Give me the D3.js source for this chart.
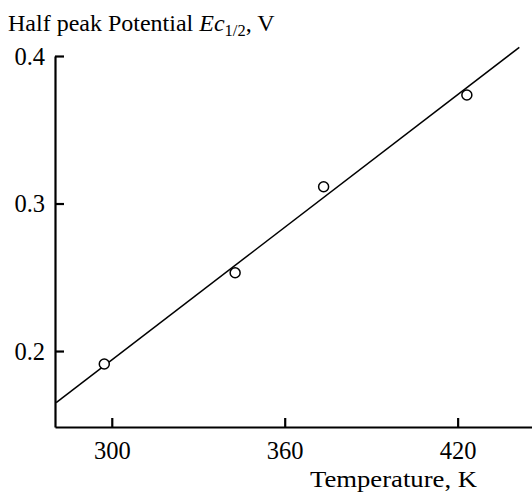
<!DOCTYPE html>
<html>
<head>
<meta charset="utf-8">
<script src="https://cdn.jsdelivr.net/npm/d3@7"></script>
<style>
  html, body { margin: 0; padding: 0; background: #fff; }
  svg { display: block; }
  text { font-family: "Liberation Serif", "Times New Roman", serif; fill: #000; }
</style>
</head>
<body>
<svg id="chart" width="532" height="492"></svg>
<script>
// Data
const temperatures = [297.4, 342.8, 373.5, 423.2];      // K
const potentials   = [0.1912, 0.2531, 0.3114, 0.3736];  // V
const fitTemps     = [280.7, 441.4];                     // fitted line ends, K
const fitPotentials = [0.1650, 0.4059];                  // V
const xTicks = [300, 360, 420];
const yTicks = [0.2, 0.3, 0.4];
const xDomain = [280.3, 445.8];
const yDomain = [0.1485, 0.4];

const svg = d3.select("#chart");
const x = d3.scaleLinear().domain(xDomain).range([55, 532]);
const y = d3.scaleLinear().domain(yDomain).range([427, 56]);

// Axes
const xAxis = d3.axisBottom(x).tickValues(xTicks).tickSizeInner(-9).tickSizeOuter(0).tickPadding(14.5).tickFormat(d3.format("d"));
const yAxis = d3.axisLeft(y).tickValues(yTicks).tickSizeInner(-9).tickSizeOuter(0).tickPadding(10).tickFormat(d3.format(".1f"));

const gx = svg.append("g").attr("transform", `translate(0,${y(yDomain[0])})`).call(xAxis);
const gy = svg.append("g").attr("transform", `translate(${x(xDomain[0])},0)`).call(yAxis);

[gx, gy].forEach(g => {
  g.select(".domain").attr("stroke", "#000").attr("stroke-width", 2.2);
  g.selectAll(".tick line").attr("stroke", "#000").attr("stroke-width", 2.2);
  g.selectAll(".tick text").attr("font-family", "Liberation Serif, serif").attr("font-size", 24.5).attr("fill", "#000");
});
gy.selectAll(".tick text").attr("dy", "0.34em");

// Fitted line
const line = d3.line().x(d => x(d[0])).y(d => y(d[1]));
svg.append("path")
  .datum(fitTemps.map((t, i) => [t, fitPotentials[i]]))
  .attr("d", line)
  .attr("fill", "none")
  .attr("stroke", "#000")
  .attr("stroke-width", 1.5);

// Points
svg.selectAll("circle.pt")
  .data(temperatures.map((t, i) => [t, potentials[i]]))
  .join("circle")
  .attr("class", "pt")
  .attr("cx", d => x(d[0]))
  .attr("cy", d => y(d[1]))
  .attr("r", 5)
  .attr("fill", "#fff")
  .attr("stroke", "#000")
  .attr("stroke-width", 1.5);

// Y axis title
const yt = svg.append("text").attr("x", 8).attr("y", 31).attr("font-size", 24);
yt.append("tspan").text("Half peak Potential ");
yt.append("tspan").attr("font-style", "italic").text("Ec");
yt.append("tspan").attr("font-size", 16.5).attr("dy", 5).text("1/2");
yt.append("tspan").attr("dy", -5).text(", V");

// X axis title
svg.append("text").attr("x", 310).attr("y", 486.5).attr("font-size", 24)
  .attr("textLength", 167).attr("lengthAdjust", "spacingAndGlyphs")
  .text("Temperature, K");
</script>
</body>
</html>
